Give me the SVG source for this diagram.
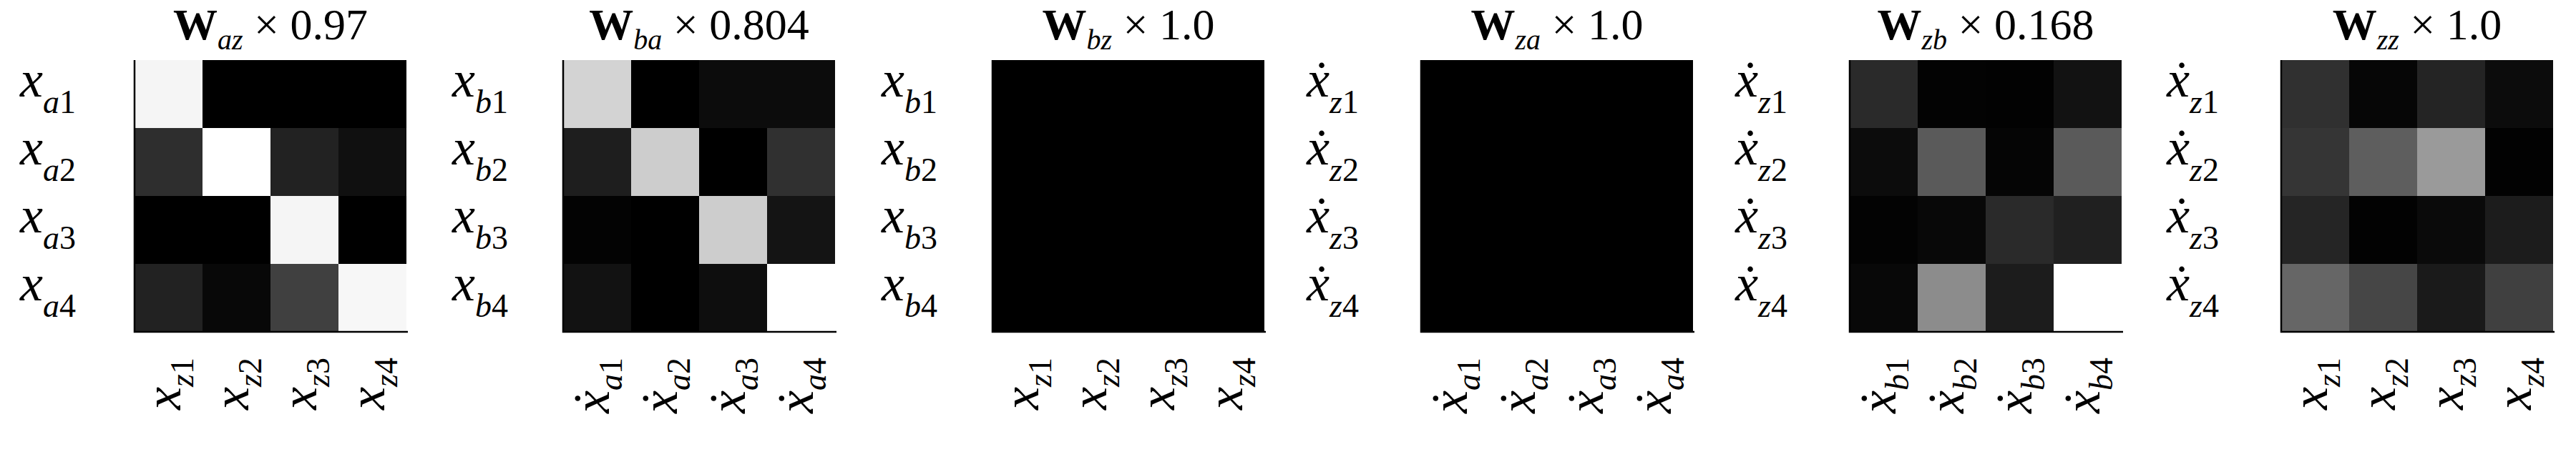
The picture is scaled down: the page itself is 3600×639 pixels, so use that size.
<svg xmlns="http://www.w3.org/2000/svg" width="3600" height="639" viewBox="0 0 3600 639">
<style>
text{font-family:"Liberation Serif","DejaVu Serif",serif;fill:#000}
.t{font-size:62px;text-anchor:middle}
.b{font-weight:bold}
.s{font-style:italic;font-size:40px}
.r{font-size:72px;font-style:italic}
.rs{font-size:46px;font-style:italic}
.n{font-style:normal}
.c{font-size:72px;font-style:italic;text-anchor:end}
.ax{stroke:#000;stroke-width:2.5;fill:none}
</style>
<defs>
<g id="rowsXA"><text class="r" x="-160" y="135">x<tspan class="rs" dy="23">a<tspan class="n">1</tspan></tspan></text><text class="r" x="-160" y="230">x<tspan class="rs" dy="23">a<tspan class="n">2</tspan></tspan></text><text class="r" x="-160" y="325">x<tspan class="rs" dy="23">a<tspan class="n">3</tspan></tspan></text><text class="r" x="-160" y="420">x<tspan class="rs" dy="23">a<tspan class="n">4</tspan></tspan></text></g>
<g id="rowsXB"><text class="r" x="-155" y="135">x<tspan class="rs" dy="23">b<tspan class="n">1</tspan></tspan></text><text class="r" x="-155" y="230">x<tspan class="rs" dy="23">b<tspan class="n">2</tspan></tspan></text><text class="r" x="-155" y="325">x<tspan class="rs" dy="23">b<tspan class="n">3</tspan></tspan></text><text class="r" x="-155" y="420">x<tspan class="rs" dy="23">b<tspan class="n">4</tspan></tspan></text></g>
<g id="rowsDZ"><text class="r" x="-160" y="135">x&#775;<tspan class="rs" dy="23">z<tspan class="n">1</tspan></tspan></text><text class="r" x="-160" y="230">x&#775;<tspan class="rs" dy="23">z<tspan class="n">2</tspan></tspan></text><text class="r" x="-160" y="325">x&#775;<tspan class="rs" dy="23">z<tspan class="n">3</tspan></tspan></text><text class="r" x="-160" y="420">x&#775;<tspan class="rs" dy="23">z<tspan class="n">4</tspan></tspan></text></g>
<g id="colsXZ"><text class="c" transform="translate(64,500) rotate(-90)">x<tspan class="rs" dy="18">z<tspan class="n">1</tspan></tspan></text><text class="c" transform="translate(159,500) rotate(-90)">x<tspan class="rs" dy="18">z<tspan class="n">2</tspan></tspan></text><text class="c" transform="translate(254,500) rotate(-90)">x<tspan class="rs" dy="18">z<tspan class="n">3</tspan></tspan></text><text class="c" transform="translate(349,500) rotate(-90)">x<tspan class="rs" dy="18">z<tspan class="n">4</tspan></tspan></text></g>
<g id="colsDA"><text class="c" transform="translate(64,500) rotate(-90)">x&#775;<tspan class="rs" dy="18">a<tspan class="n">1</tspan></tspan></text><text class="c" transform="translate(159,500) rotate(-90)">x&#775;<tspan class="rs" dy="18">a<tspan class="n">2</tspan></tspan></text><text class="c" transform="translate(254,500) rotate(-90)">x&#775;<tspan class="rs" dy="18">a<tspan class="n">3</tspan></tspan></text><text class="c" transform="translate(349,500) rotate(-90)">x&#775;<tspan class="rs" dy="18">a<tspan class="n">4</tspan></tspan></text></g>
<g id="colsDB"><text class="c" transform="translate(64,500) rotate(-90)">x&#775;<tspan class="rs" dy="18">b<tspan class="n">1</tspan></tspan></text><text class="c" transform="translate(159,500) rotate(-90)">x&#775;<tspan class="rs" dy="18">b<tspan class="n">2</tspan></tspan></text><text class="c" transform="translate(254,500) rotate(-90)">x&#775;<tspan class="rs" dy="18">b<tspan class="n">3</tspan></tspan></text><text class="c" transform="translate(349,500) rotate(-90)">x&#775;<tspan class="rs" dy="18">b<tspan class="n">4</tspan></tspan></text></g>
<path id="axes" class="ax" d="M0,84V464H382"/>
</defs>

<g id="panel-az" transform="translate(188,0)">
<text class="t" x="190" y="55"><tspan class="b">W</tspan><tspan class="s" dy="14">az</tspan><tspan dy="-14"> × 0.97</tspan></text>
<rect x="0" y="84" width="95" height="95" fill="#f5f5f5"/><rect x="95" y="84" width="95" height="95" fill="#000"/><rect x="190" y="84" width="95" height="95" fill="#000"/><rect x="285" y="84" width="95" height="95" fill="#000"/>
<rect x="0" y="179" width="95" height="95" fill="#2e2e2e"/><rect x="95" y="179" width="95" height="95" fill="#fff"/><rect x="190" y="179" width="95" height="95" fill="#222"/><rect x="285" y="179" width="95" height="95" fill="#101010"/>
<rect x="0" y="274" width="95" height="95" fill="#000"/><rect x="95" y="274" width="95" height="95" fill="#000"/><rect x="190" y="274" width="95" height="95" fill="#f5f5f5"/><rect x="285" y="274" width="95" height="95" fill="#000"/>
<rect x="0" y="369" width="95" height="95" fill="#222"/><rect x="95" y="369" width="95" height="95" fill="#080808"/><rect x="190" y="369" width="95" height="95" fill="#404040"/><rect x="285" y="369" width="95" height="95" fill="#f7f7f7"/>
<use href="#axes"/><use href="#rowsXA"/><use href="#colsXZ"/>
</g>

<g id="panel-ba" transform="translate(787,0)">
<text class="t" x="190" y="55"><tspan class="b">W</tspan><tspan class="s" dy="14">ba</tspan><tspan dy="-14"> × 0.804</tspan></text>
<rect x="0" y="84" width="95" height="95" fill="#d3d3d3"/><rect x="95" y="84" width="95" height="95" fill="#000"/><rect x="190" y="84" width="95" height="95" fill="#0c0c0c"/><rect x="285" y="84" width="95" height="95" fill="#0c0c0c"/>
<rect x="0" y="179" width="95" height="95" fill="#1e1e1e"/><rect x="95" y="179" width="95" height="95" fill="#cdcdcd"/><rect x="190" y="179" width="95" height="95" fill="#000"/><rect x="285" y="179" width="95" height="95" fill="#303030"/>
<rect x="0" y="274" width="95" height="95" fill="#030303"/><rect x="95" y="274" width="95" height="95" fill="#000"/><rect x="190" y="274" width="95" height="95" fill="#cdcdcd"/><rect x="285" y="274" width="95" height="95" fill="#141414"/>
<rect x="0" y="369" width="95" height="95" fill="#121212"/><rect x="95" y="369" width="95" height="95" fill="#000"/><rect x="190" y="369" width="95" height="95" fill="#0e0e0e"/><rect x="285" y="369" width="95" height="95" fill="#fff"/>
<use href="#axes"/><use href="#rowsXB"/><use href="#colsDA"/>
</g>

<g id="panel-bz" transform="translate(1387,0)">
<text class="t" x="190" y="55"><tspan class="b">W</tspan><tspan class="s" dy="14">bz</tspan><tspan dy="-14"> × 1.0</tspan></text>
<rect x="0" y="84" width="380" height="380" fill="#000"/>
<use href="#axes"/><use href="#rowsXB"/><use href="#colsXZ"/>
</g>

<g id="panel-za" transform="translate(1986,0)">
<text class="t" x="190" y="55"><tspan class="b">W</tspan><tspan class="s" dy="14">za</tspan><tspan dy="-14"> × 1.0</tspan></text>
<rect x="0" y="84" width="380" height="380" fill="#000"/>
<use href="#axes"/><use href="#rowsDZ"/><use href="#colsDA"/>
</g>

<g id="panel-zb" transform="translate(2585,0)">
<text class="t" x="190" y="55"><tspan class="b">W</tspan><tspan class="s" dy="14">zb</tspan><tspan dy="-14"> × 0.168</tspan></text>
<rect x="0" y="84" width="95" height="95" fill="#2a2a2a"/><rect x="95" y="84" width="95" height="95" fill="#030303"/><rect x="190" y="84" width="95" height="95" fill="#020202"/><rect x="285" y="84" width="95" height="95" fill="#121212"/>
<rect x="0" y="179" width="95" height="95" fill="#0c0c0c"/><rect x="95" y="179" width="95" height="95" fill="#5a5a5a"/><rect x="190" y="179" width="95" height="95" fill="#050505"/><rect x="285" y="179" width="95" height="95" fill="#5a5a5a"/>
<rect x="0" y="274" width="95" height="95" fill="#030303"/><rect x="95" y="274" width="95" height="95" fill="#080808"/><rect x="190" y="274" width="95" height="95" fill="#2a2a2a"/><rect x="285" y="274" width="95" height="95" fill="#202020"/>
<rect x="0" y="369" width="95" height="95" fill="#080808"/><rect x="95" y="369" width="95" height="95" fill="#8c8c8c"/><rect x="190" y="369" width="95" height="95" fill="#1c1c1c"/><rect x="285" y="369" width="95" height="95" fill="#fff"/>
<use href="#axes"/><use href="#rowsDZ"/><use href="#colsDB"/>
</g>

<g id="panel-zz" transform="translate(3188,0)">
<text class="t" x="190" y="55"><tspan class="b">W</tspan><tspan class="s" dy="14">zz</tspan><tspan dy="-14"> × 1.0</tspan></text>
<rect x="0" y="84" width="95" height="95" fill="#303030"/><rect x="95" y="84" width="95" height="95" fill="#060606"/><rect x="190" y="84" width="95" height="95" fill="#242424"/><rect x="285" y="84" width="95" height="95" fill="#0c0c0c"/>
<rect x="0" y="179" width="95" height="95" fill="#353535"/><rect x="95" y="179" width="95" height="95" fill="#5e5e5e"/><rect x="190" y="179" width="95" height="95" fill="#9a9a9a"/><rect x="285" y="179" width="95" height="95" fill="#020202"/>
<rect x="0" y="274" width="95" height="95" fill="#252525"/><rect x="95" y="274" width="95" height="95" fill="#020202"/><rect x="190" y="274" width="95" height="95" fill="#0a0a0a"/><rect x="285" y="274" width="95" height="95" fill="#1c1c1c"/>
<rect x="0" y="369" width="95" height="95" fill="#666"/><rect x="95" y="369" width="95" height="95" fill="#464646"/><rect x="190" y="369" width="95" height="95" fill="#1a1a1a"/><rect x="285" y="369" width="95" height="95" fill="#404040"/>
<use href="#axes"/><use href="#rowsDZ"/><use href="#colsXZ"/>
</g>
</svg>
